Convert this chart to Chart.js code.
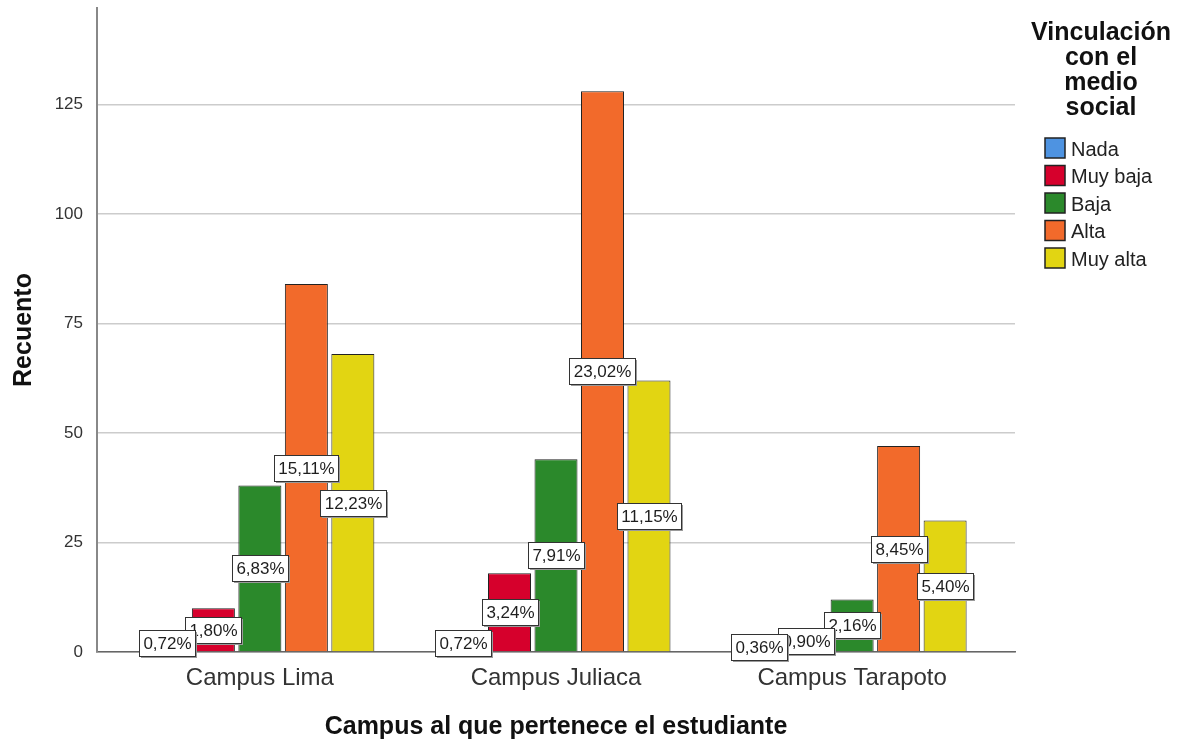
<!DOCTYPE html>
<html>
<head>
<meta charset="utf-8">
<script src="https://cdn.jsdelivr.net/npm/chart.js@4.4.0/dist/chart.umd.min.js"></script>
<style>
  body { margin: 0; background: #fff; }
  #wrap { width: 1177px; height: 742px; }
</style>
</head>
<body>
<div id="wrap"><canvas id="campusChart"></canvas></div>
<script>
// categories and series
const campuses = ["Campus Lima", "Campus Juliaca", "Campus Tarapoto"];
const seriesNames = ["Nada", "Muy baja", "Baja", "Alta", "Muy alta"];
const nada = [4, 4, 2];
const muyBaja = [10, 18, 5];
const baja = [38, 44, 12];
const alta = [84, 128, 47];
const muyAlta = [68, 62, 30];
const yTicks = [0, 25, 50, 75, 100, 125];
const legendTitle = ["Vinculación", "con el", "medio", "social"];

const seriesValues = [nada, muyBaja, baja, alta, muyAlta];
const colors = ["#4e93e1", "#d6002c", "#2b892b", "#f26a2b", "#e2d512"];
const FONT = "'Liberation Sans', Arial, sans-serif";

// percentages are shares of the grand total
const total = seriesValues.flat().reduce((a, b) => a + b, 0);
const pct = (v) => (v / total * 100).toFixed(2).replace(".", ",") + "%";

const datasets = seriesValues.map((vals, i) => ({
  label: seriesNames[i],
  data: vals.map((v, j) => ({ x: j, y: v })),
  backgroundColor: colors[i],
  borderColor: "#222",
  borderWidth: 1,
  categoryPercentage: 0.785,
  barPercentage: 0.925,
}));

// boxed percentage labels at the middle of each bar
const pctLabels = {
  id: "pctLabels",
  afterDatasetsDraw(chart) {
    const ctx = chart.ctx;
    ctx.save();
    ctx.font = "17px " + FONT;
    ctx.textAlign = "center";
    ctx.textBaseline = "middle";
    for (let i = chart.data.datasets.length - 1; i >= 0; i--) {
      const meta = chart.getDatasetMeta(i);
      meta.data.forEach((bar, j) => {
        const { x, y, base } = bar.getProps(["x", "y", "base"], true);
        const cy = (y + base) / 2;
        const txt = pct(seriesValues[i][j]);
        const w = Math.round(ctx.measureText(txt).width + 8);
        const h = 26;
        const bx = Math.round(x - w / 2), by = Math.round(cy - h / 2);
        // faint drop shadow like the original
        ctx.fillStyle = "#9a9a9a";
        ctx.fillRect(bx + 2, by + 2, w, h);
        ctx.fillStyle = "#fff";
        ctx.fillRect(bx, by, w, h);
        ctx.strokeStyle = "#333";
        ctx.lineWidth = 1;
        ctx.strokeRect(bx + 0.5, by + 0.5, w, h);
        ctx.fillStyle = "#1e1e1e";
        ctx.fillText(txt, bx + w / 2 + 0.5, by + h / 2 + 1.5);
      });
    }
    ctx.restore();
  },
};

// legend on the right with a wrapped bold title
const sideLegend = {
  id: "sideLegend",
  afterDraw(chart) {
    const ctx = chart.ctx;
    ctx.save();
    ctx.fillStyle = "#111";
    ctx.font = "bold 25px " + FONT;
    ctx.textAlign = "center";
    ctx.textBaseline = "middle";
    legendTitle.forEach((line, k) => ctx.fillText(line, 1101, 33 + k * 25));
    ctx.font = "20px " + FONT;
    ctx.textAlign = "left";
    chart.data.datasets.forEach((ds, k) => {
      const cy = 148 + k * 27.5;
      ctx.fillStyle = ds.backgroundColor;
      ctx.fillRect(1045, cy - 10, 20, 20);
      ctx.strokeStyle = "#222";
      ctx.lineWidth = 1.5;
      ctx.strokeRect(1045, cy - 10, 20, 20);
      ctx.fillStyle = "#222";
      ctx.fillText(ds.label, 1071, cy + 2);
    });
    ctx.restore();
  },
};

new Chart(document.getElementById("campusChart"), {
  type: "bar",
  data: { datasets },
  plugins: [pctLabels, sideLegend],
  options: {
    responsive: true,
    maintainAspectRatio: false,
    animation: false,
    layout: { padding: { top: 8, right: 162, left: 0, bottom: 0 } },
    plugins: {
      legend: { display: false },
      tooltip: { enabled: false },
    },
    scales: {
      x: {
        type: "linear",
        min: -0.55,
        max: 2.55,
        offset: false,
        grid: { display: false, drawTicks: false },
        border: { display: true, color: "#666", width: 1.5 },
        afterBuildTicks: (scale) => {
          scale.ticks = campuses.map((c, i) => ({ value: i }));
        },
        afterFit: (scale) => {
          scale.height = 90;
          scale.paddingLeft = 0;
          scale.paddingRight = 0;
        },
        ticks: {
          padding: 12,
          color: "#333",
          font: { family: FONT, size: 24 },
          callback: (v) => campuses[v],
        },
        title: {
          display: true,
          text: "Campus al que pertenece el estudiante",
          color: "#111",
          font: { family: FONT, size: 25, weight: "bold" },
          padding: { top: 0, bottom: 0 },
        },
      },
      y: {
        min: 0,
        max: 147,
        afterBuildTicks: (scale) => {
          scale.ticks = yTicks.map((v) => ({ value: v }));
        },
        afterFit: (scale) => {
          scale.width = 97;
          scale.paddingTop = 0;
          scale.paddingBottom = 0;
        },
        grid: { color: "#cccccc", lineWidth: 1.5, drawTicks: false },
        border: { display: true, color: "#888", width: 2 },
        ticks: {
          padding: 14,
          color: "#333",
          font: { family: FONT, size: 17 },
        },
        title: {
          display: true,
          text: "Recuento",
          color: "#111",
          font: { family: FONT, size: 25, weight: "bold" },
          padding: { top: 9, bottom: 0 },
        },
      },
    },
  },
});
</script>
</body>
</html>
